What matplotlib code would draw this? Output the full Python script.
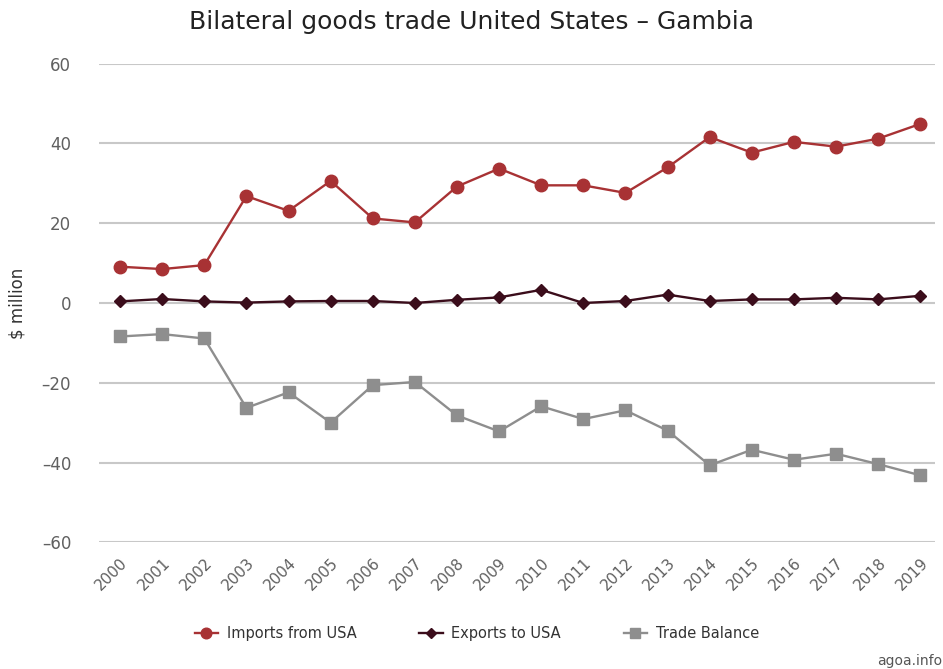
import matplotlib.pyplot as plt

years = [str(y) for y in range(2000, 2020)]
imports_from_usa = [9.1, 8.5, 9.5, 26.8, 23.1, 30.6, 21.2, 20.2, 29.2, 33.7,
                    29.5, 29.5, 27.6, 34.0, 41.6, 37.7, 40.4, 39.2, 41.2, 44.9]
exports_to_usa = [0.4, 1.0, 0.4, 0.1, 0.4, 0.5, 0.5, 0.0, 0.8, 1.4,
                  3.3, 0.0, 0.5, 2.1, 0.5, 0.9, 0.9, 1.3, 0.9, 1.8]
trade_balance = [-8.4, -7.8, -8.9, -26.3, -22.4, -30.0, -20.6, -19.8, -28.2, -32.2,
                 -25.9, -29.1, -26.9, -32.0, -40.7, -36.8, -39.3, -37.8, -40.4, -43.2]
y_ticks = [-60, -40, -20, 0, 20, 40, 60]

plt.rcParams['font.family'] = ['DejaVu Sans']

fig = plt.figure(figsize=(9.43, 6.69), dpi=100)
ax = fig.add_axes([0.105, 0.1894, 0.8865, 0.7154])

x = range(len(years))
ax.plot(x, imports_from_usa, color='#a83234', lw=1.7, marker='o', ms=9,
        label='Imports from USA', zorder=3)
ax.plot(x, exports_to_usa, color='#3b0d1b', lw=1.7, marker='D', ms=6,
        label='Exports to USA', zorder=3)
ax.plot(x, trade_balance, color='#8e8e8e', lw=1.7, marker='s', ms=8.5,
        label='Trade Balance', zorder=3)

ax.set_ylim(-60, 60)
ax.set_xlim(-0.5, 19.35)
ax.set_yticks(y_ticks)
ax.set_yticklabels([str(v).replace('-', '\u2013') for v in y_ticks])
ax.set_xticks(list(x))
ax.set_xticklabels(years, rotation=45, ha='right', rotation_mode='anchor')
ax.tick_params(axis='both', length=0, colors='#606060')
ax.tick_params(axis='y', pad=20, labelsize=12)
ax.tick_params(axis='x', pad=9, labelsize=11)
ax.grid(axis='y', color='#c8c8c8', lw=1.5)
ax.set_axisbelow(True)
for s in ax.spines.values():
    s.set_visible(False)

ax.set_ylabel('$ million', fontsize=12, color='#333333')
ax.yaxis.set_label_coords(-0.087, 0.5)

fig.text(0.5, 0.967, 'Bilateral goods trade United States \u2013 Gambia',
         ha='center', va='center', fontsize=18, color='#222222')

ax.legend(loc='center', bbox_to_anchor=(0.452, -0.19), ncol=3, frameon=False,
          fontsize=10.5, handlelength=1.6, columnspacing=4.3, handletextpad=0.6,
          markerscale=0.85, labelcolor='#333333')

fig.text(0.999, 0.012, 'agoa.info', ha='right', va='center', fontsize=10,
         color='#555555')

fig.savefig('out.png', dpi=100)
